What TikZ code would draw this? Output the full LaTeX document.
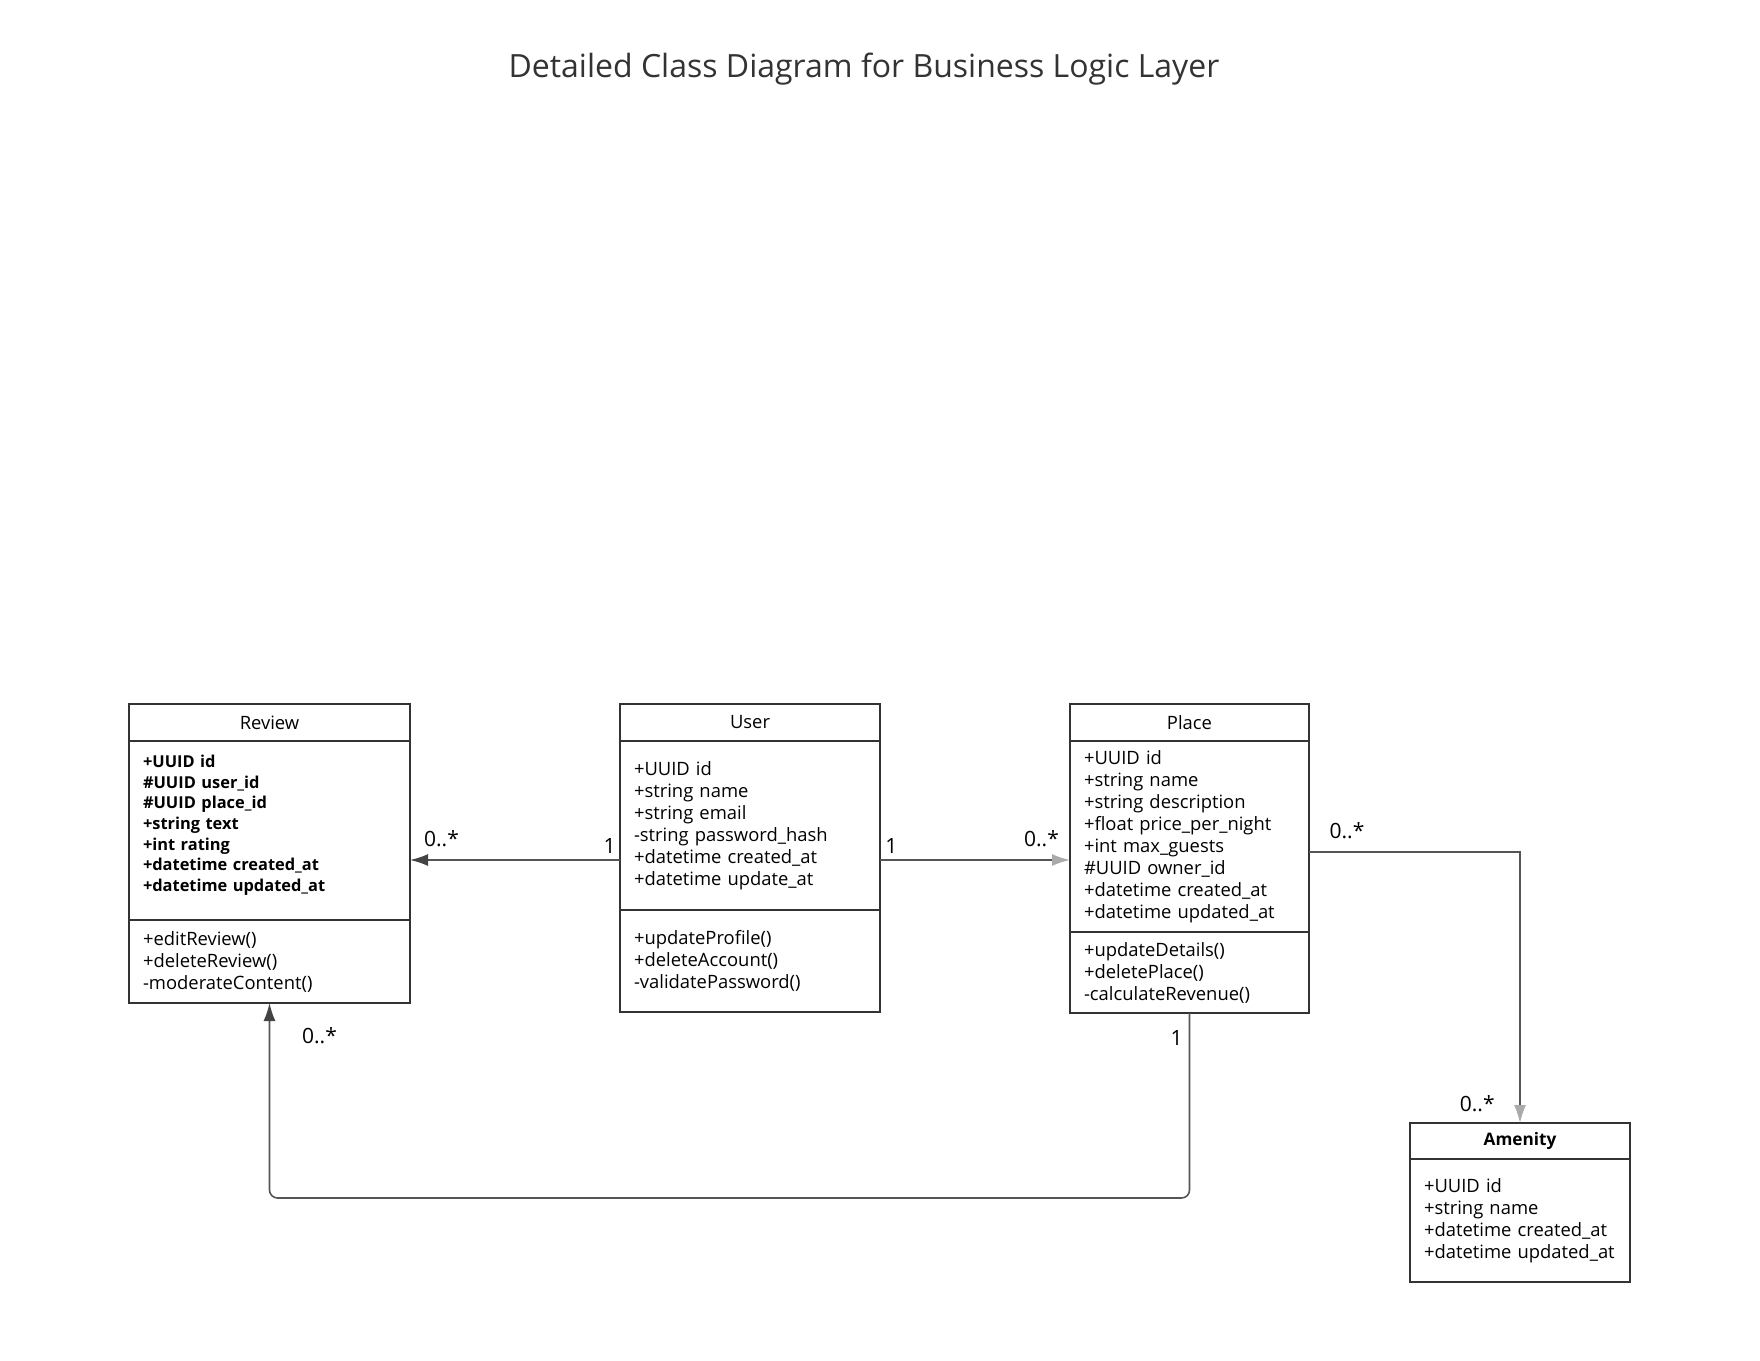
\documentclass[tikz,border=0pt]{standalone}
\usepackage{fontspec}
\setmainfont{Open Sans}
\usetikzlibrary{arrows.meta}
\definecolor{boxline}{HTML}{333333}
\definecolor{linegray}{HTML}{555555}
\definecolor{tipdark}{HTML}{444444}
\definecolor{tiplight}{HTML}{AAAAAA}

\begin{document}
\begin{tikzpicture}[x=0.5pt, y=-0.5pt,
                    cls/.style={
                        draw=boxline,
                        line width=1pt,
                        rectangle,
                        outer sep=0pt,
                        inner ysep=0pt,
                        inner xsep=7pt,
                        anchor=north west,
                        font=\fontsize{9.2}{11}\selectfont},
                    head/.style={cls, minimum height=18.5pt, align=center},
                    members/.style={cls, align=left},
                    bold members/.style={members, font=\fontsize{8.2}{10.3}\selectfont\bfseries},
                    assoc/.style={draw=linegray, line width=0.8pt},
                    dark tip/.style={-{Latex[length=9pt,width=6pt,color=tipdark]}},
                    light tip/.style={-{Latex[length=9pt,width=6pt,color=tiplight]}},
                    mult/.style={inner sep=0pt, text=black, font=\fontsize{10.5}{11}\selectfont}]
\useasboundingbox (0,0) rectangle (1760,1360); % same frame as the reference
\node[font=\fontsize{16}{19}\selectfont, text=boxline] (title) at (864,69) {Detailed Class Diagram for Business Logic Layer};

% Review
\node[head, minimum width=140.5pt] (reviewH) at (129,704) {Review};
\node[bold members, text width=126.5pt, minimum height=89.5pt] (reviewA) at (reviewH.south west) {+UUID id\\\#UUID user\_id\\\#UUID place\_id\\+string text\\+int rating\\+datetime created\_at\\+datetime updated\_at\\[-3pt]\mbox{}};
\node[members, text width=126.5pt, minimum height=41.5pt] (reviewM) at (reviewA.south west) {+editReview()\\+deleteReview()\\-moderateContent()};

% User
\node[head, minimum width=130pt] (userH) at (620,704) {User};
\node[members, text width=116pt, minimum height=84.5pt] (userA) at (userH.south west) {+UUID id\\+string name\\+string email\\-string password\_hash\\+datetime created\_at\\+datetime update\_at};
\node[members, text width=116pt, minimum height=51pt] (userM) at (userA.south west) {+updateProfile()\\+deleteAccount()\\-validatePassword()};

% Place
\node[head, minimum width=119.5pt] (placeH) at (1070,704) {Place};
\node[members, text width=105.5pt, minimum height=95.5pt] (placeA) at (placeH.south west) {+UUID id\\+string name\\+string description\\+float price\_per\_night\\+int max\_guests\\\#UUID owner\_id\\+datetime created\_at\\+datetime updated\_at};
\node[members, text width=105.5pt, minimum height=40.5pt] (placeM) at (placeA.south west) {+updateDetails()\\+deletePlace()\\-calculateRevenue()};

% Amenity
\node[head, minimum width=110pt, minimum height=18pt, font=\fontsize{8.6}{10.5}\selectfont\bfseries] (amenityH) at (1410,1123) {Amenity};
\node[members, text width=96pt, minimum height=61.5pt] (amenityA) at (amenityH.south west) {+UUID id\\+string name\\+datetime created\_at\\+datetime updated\_at};

% associations
\draw[assoc, dark tip] ([yshift=-17.25pt]userA.west) coordinate (userL) -- (userL -| reviewA.east)
    node[mult, pos=0.05, above=3pt] {1} node[mult, pos=0.85, above=6pt] {0..*};
\draw[assoc, light tip] ([yshift=-17.25pt]userA.east) coordinate (userR) -- (userR -| placeA.west)
    node[mult, pos=0.06, above=3pt] {1} node[mult, pos=0.85, above=6pt] {0..*};
\draw[assoc, light tip] ([yshift=-7.75pt]placeA.east) coordinate (placeR) -| (amenityH.north)
    node[mult, pos=0.09, above=6pt] {0..*};
\node[mult, anchor=south east] (amenityMult) at ([shift={(-25,-11)}]amenityH.north) {0..*};
\draw[assoc, dark tip, rounded corners=4pt] (placeM.south) -- ++(0,185) -| (reviewM.south);
\node[mult] (placeMult) at ([shift={(-13,25)}]placeM.south) {1};
\node[mult] (reviewMult) at ([shift={(50,33)}]reviewM.south) {0..*};
\end{tikzpicture}
\end{document}
